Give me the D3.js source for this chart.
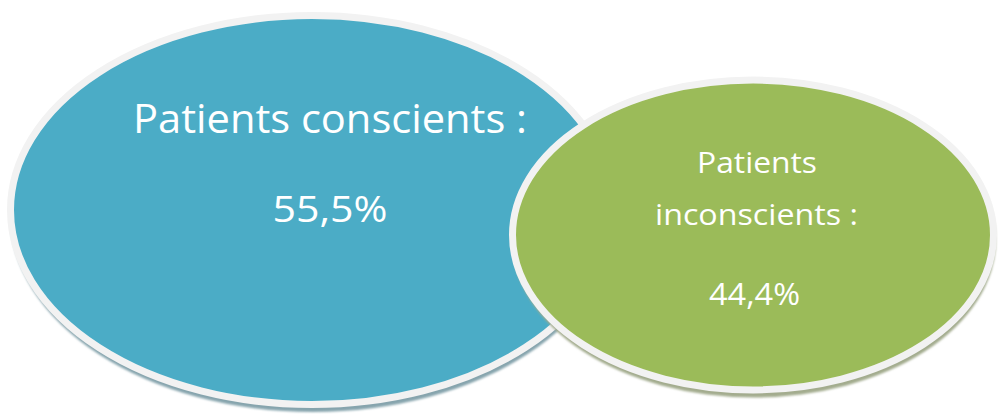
<!DOCTYPE html>
<html>
<head>
<meta charset="utf-8">
<script src="https://cdn.jsdelivr.net/npm/d3@7"></script>
<style>
  html, body { margin: 0; padding: 0; background: #ffffff; }
  svg { display: block; }
</style>
</head>
<body>
<svg id="chart" width="1000" height="414"></svg>
<script>
// Share of patients by state of consciousness
const categories = ["Patients conscients :", "Patients inconscients :"];
const values = [55.5, 44.4];
const valueLabels = ["55,5%", "44,4%"];
const labelLines = [["Patients conscients :"], ["Patients", "inconscients :"]];

const fills = ["#4BACC6", "#9BBB59"];
const shadows = ["#86a4ad", "#a3ac8e"];
const borderColor = "#F2F2F2";
const borderWidth = 7;

const svg = d3.select("#chart");

// Ellipse radii grow linearly with the percentage
const rxScale = d3.scaleLinear().domain([0, 55.5]).range([0, 305]);
const ryScale = d3.scaleLinear().domain([0, 55.5]).range([0, 198]);

// Bubble centres
const cx = [312, 753];
const cy = [210, 235];

const defs = svg.append("defs");
defs.append("filter").attr("id", "soft")
  .attr("x", "-10%").attr("y", "-10%").attr("width", "120%").attr("height", "120%")
  .append("feGaussianBlur").attr("stdDeviation", 1.2);

const nodes = categories.map((c, i) => ({
  name: c, value: values[i], label: valueLabels[i], lines: labelLines[i],
  cx: cx[i], cy: cy[i], fill: fills[i], shadow: shadows[i]
}));

nodes.forEach(d => {
  const g = svg.append("g").attr("class", "bubble");
  const rx = rxScale(d.value) - borderWidth / 2;
  const ry = ryScale(d.value) - borderWidth / 2;

  // drop shadow below the rim
  g.append("ellipse")
    .attr("cx", d.cx + 1).attr("cy", d.cy + 5)
    .attr("rx", rx + borderWidth / 2 - 2).attr("ry", ry + borderWidth / 2 - 1)
    .attr("fill", d.shadow)
    .attr("filter", "url(#soft)");

  g.append("ellipse")
    .attr("cx", d.cx).attr("cy", d.cy)
    .attr("rx", rx).attr("ry", ry)
    .attr("fill", d.fill)
    .attr("stroke", borderColor)
    .attr("stroke-width", borderWidth);
});

// Labels
const fontFamily = "'Open Sans', 'DejaVu Sans', sans-serif";

function label(x, y, size, width, str) {
  svg.append("text")
    .attr("x", x).attr("y", y)
    .attr("text-anchor", "middle")
    .attr("fill", "#ffffff")
    .attr("font-family", fontFamily)
    .attr("font-weight", 400)
    .attr("font-size", size)
    .attr("textLength", width).attr("lengthAdjust", "spacingAndGlyphs")
    .text(str);
}

// large bubble
label(330, 133, 41, 394, nodes[0].lines[0]);
label(330, 222, 37, 115, nodes[0].label);

// small bubble
label(757, 173, 29, 120, nodes[1].lines[0]);
label(756.5, 225, 29, 203, nodes[1].lines[1]);
label(754.5, 305, 31, 91, nodes[1].label);
</script>
</body>
</html>
